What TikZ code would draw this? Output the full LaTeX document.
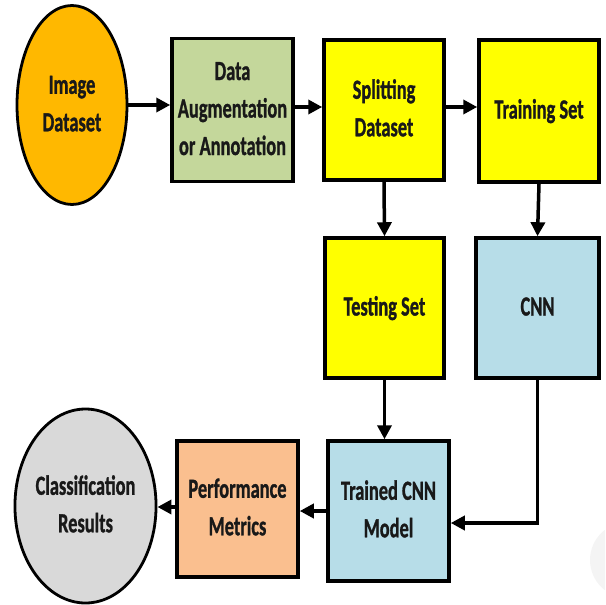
\documentclass[tikz,border=0pt]{standalone}
\usepackage{fontspec}
\setmainfont{Carlito}[BoldFeatures={FakeBold=1.3}]
\usepackage{graphicx}
\usetikzlibrary{arrows.meta,shapes.geometric,calc}
\definecolor{cOrange}{RGB}{255,184,0}
\definecolor{cGreen}{RGB}{196,215,155}
\definecolor{cYellow}{RGB}{255,255,0}
\definecolor{cBlue}{RGB}{183,221,232}
\definecolor{cPeach}{RGB}{250,191,143}
\definecolor{cGray}{RGB}{217,217,217}
\definecolor{cText}{RGB}{25,25,25}
\newcommand{\lbl}[1]{\scalebox{1}[1.5]{\begin{tabular}{@{}c@{}}#1\end{tabular}}}
\begin{document}
\begin{tikzpicture}[x=1pt,y=-1pt,
  every node/.style={font=\fontsize{18.4}{25}\selectfont\bfseries, text=cText, inner sep=0pt},
  boxnode/.style={draw=black, line width=3.5pt, rectangle, minimum width=#1},
  ellnode/.style={draw=black, line width=2.8pt, ellipse, inner sep=0pt},
  flow/.style={draw=black, line width=3.5pt, -{Triangle[length=14pt,width=14pt]}}
]
\useasboundingbox (0,0) rectangle (605,605);
\begin{scope}
\clip (0,0) rectangle (605,605);
\fill[gray!9] (628,560) circle (38);
\end{scope}

\node[ellnode, fill=cOrange, minimum width=110pt, minimum height=199pt] (img) at (72,105) {\lbl{Image\\Dataset}};
\node[boxnode=121pt, fill=cGreen, minimum height=143pt] (aug) at (232.5,110) {\lbl{Data\\Augmentation\\or Annotation}};
\node[boxnode=120pt, fill=cYellow, minimum height=140pt] (split) at (384,110) {\lbl{Splitting\\Dataset}};
\node[boxnode=120pt, fill=cYellow, minimum height=142pt] (train) at (539,111) {\lbl{Training Set}};
\node[boxnode=119pt, fill=cYellow, minimum height=140pt] (test) at (384.5,308) {\lbl{Testing Set}};
\node[boxnode=123pt, fill=cBlue, minimum height=140pt] (cnn) at (537.5,308) {\lbl{CNN}};
\node[boxnode=121pt, fill=cBlue, minimum height=140pt] (trained) at (388.5,511) {\lbl{Trained CNN\\Model}};
\node[boxnode=121pt, fill=cPeach, minimum height=136pt] (perf) at (237.5,509) {\lbl{Performance\\Metrics}};
\node[ellnode, fill=cGray, minimum width=109pt, minimum height=194pt] (cls) at (85.5,506) {\lbl{Classification\\Results}};

\draw[flow] (img.east) -- (img.east -| aug.west);
\draw[flow] ([yshift=3pt]aug.east) -- ([yshift=3pt]aug.east -| split.west);
\draw[flow] ([yshift=3pt]split.east) -- ([yshift=3pt]split.east -| train.west);
\draw[flow] (split.south) -- (test.north);
\draw[flow] (train.south) -- (cnn.north);
\draw[flow] (test.south) -- (test.south |- trained.north);
\draw[flow] (cnn.south) |- ([yshift=-12pt]trained.east);
\draw[flow] (trained.west) -- (trained.west -| perf.east);
\draw[flow] ([yshift=2pt]perf.west) -- ([yshift=2pt]perf.west -| cls.east);
\end{tikzpicture}
\end{document}
